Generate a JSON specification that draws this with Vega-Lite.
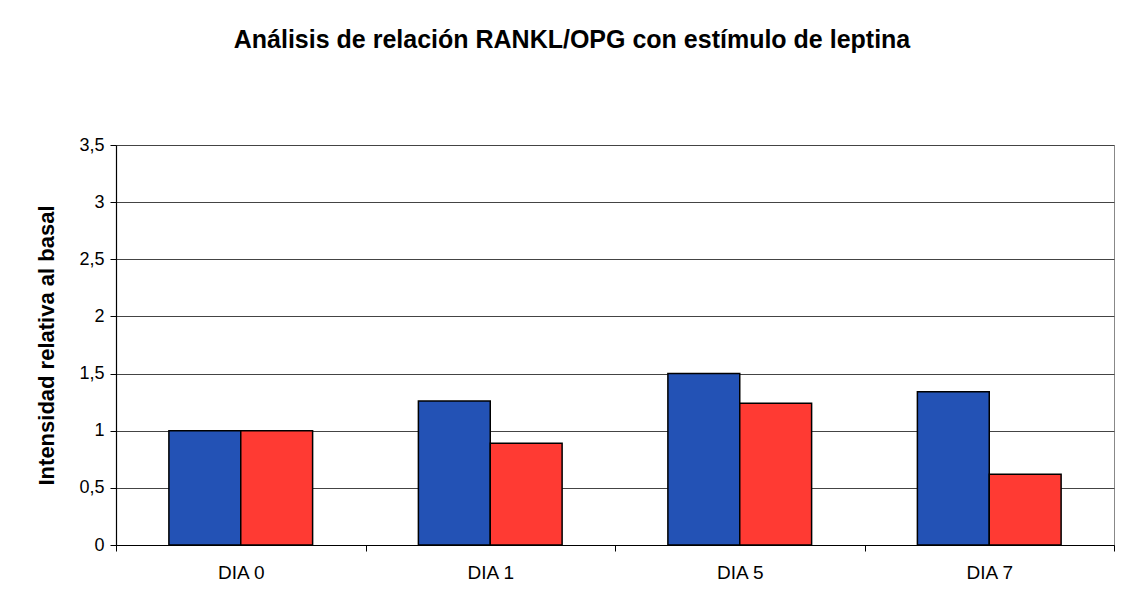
{
  "$schema": "https://vega.github.io/schema/vega-lite/v6.json",
  "autosize": {"type": "none"},
  "width": 998,
  "height": 400,
  "padding": {"left": 116, "top": 145, "right": 14, "bottom": 66},
  "background": "white",
  "title": {
    "text": "Análisis de relación RANKL/OPG con estímulo de leptina",
    "font": "Liberation Sans",
    "fontSize": 25,
    "fontWeight": "bold",
    "color": "#000000",
    "anchor": "middle",
    "dx": -43,
    "offset": 83
  },
  "data": {
    "values": [
      {"dia": "DIA 0", "serie": "Serie 1", "valor": 1.0},
      {"dia": "DIA 0", "serie": "Serie 2", "valor": 1.0},
      {"dia": "DIA 1", "serie": "Serie 1", "valor": 1.26},
      {"dia": "DIA 1", "serie": "Serie 2", "valor": 0.89},
      {"dia": "DIA 5", "serie": "Serie 1", "valor": 1.5},
      {"dia": "DIA 5", "serie": "Serie 2", "valor": 1.24},
      {"dia": "DIA 7", "serie": "Serie 1", "valor": 1.34},
      {"dia": "DIA 7", "serie": "Serie 2", "valor": 0.62}
    ]
  },
  "mark": {"type": "bar", "stroke": "#000000", "strokeWidth": 1.5},
  "encoding": {
    "x": {
      "field": "dia",
      "type": "nominal",
      "sort": ["DIA 0", "DIA 1", "DIA 5", "DIA 7"],
      "scale": {"paddingInner": 0, "paddingOuter": 0},
      "axis": {
        "title": null,
        "labelAngle": 0,
        "labelFont": "Liberation Sans",
        "labelFontSize": 19,
        "labelColor": "#000000",
        "labelPadding": 12,
        "tickBand": "extent",
        "tickColor": "#000000",
        "tickSize": 6,
        "domainColor": "#000000",
        "domainWidth": 1.2,
        "grid": false
      }
    },
    "xOffset": {
      "field": "serie",
      "type": "nominal",
      "scale": {"paddingInner": 0, "paddingOuter": 0.736}
    },
    "y": {
      "field": "valor",
      "type": "quantitative",
      "scale": {"domain": [0, 3.5], "nice": false},
      "axis": {
        "title": "Intensidad relativa al basal",
        "titleFont": "Liberation Sans",
        "titleFontSize": 22,
        "titleFontWeight": "bold",
        "titleColor": "#000000",
        "titlePadding": 20,
        "values": [0, 0.5, 1, 1.5, 2, 2.5, 3, 3.5],
        "labelExpr": "replace(format(datum.value, ''), '.', ',')",
        "labelFont": "Liberation Sans",
        "labelFontSize": 18,
        "labelColor": "#000000",
        "labelPadding": 6,
        "tickColor": "#000000",
        "tickSize": 6,
        "domainColor": "#000000",
        "domainWidth": 1.2,
        "grid": true,
        "gridColor": "#444444",
        "gridWidth": 1
      }
    },
    "color": {
      "field": "serie",
      "type": "nominal",
      "scale": {"domain": ["Serie 1", "Serie 2"], "range": ["#2352B5", "#FF3A33"]},
      "legend": null
    }
  },
  "config": {
    "view": {"stroke": "#888888", "strokeWidth": 1}
  }
}
